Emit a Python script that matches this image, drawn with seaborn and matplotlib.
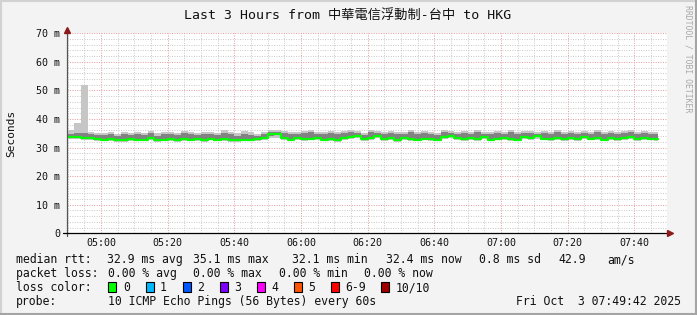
import matplotlib
matplotlib.use("Agg")
import matplotlib.pyplot as plt
import numpy as np
import pandas as pd
import seaborn as sns
from matplotlib.patches import Rectangle
from matplotlib.lines import Line2D
from matplotlib.ticker import MultipleLocator

# ---------------- data (ms), one bin every 2 minutes from 04:50 ----------------
START_MIN = 4 * 60 + 50      # 04:50
STEP_MIN = 2
median_ms = [33.6,33.6,33.5,33.4,33.0, 32.7,33.0,32.6,32.5,32.9, 32.7,32.8,33.2,32.5,32.8,
             32.9,32.7,33.0,32.8,32.9, 32.6,33.1,32.7,33.0,32.5, 32.6,32.8,32.7,32.9,33.4,
             34.7,34.9,33.5,32.8,33.3, 32.9,33.1,33.4,32.8,33.0, 32.7,33.2,33.8,34.2,33.0,
             33.5,34.1,32.9,33.2,32.7, 33.4,33.0,32.8,33.1,32.9, 32.8,33.6,34.0,33.3,32.9,
             33.5,33.0,33.8,32.8,33.1, 33.4,33.0,32.8,33.6,33.2, 33.9,33.1,32.9,33.4,33.0,
             33.3,32.9,33.7,33.1,33.4, 32.8,33.5,33.0,33.2,33.6, 33.0,33.3,33.1,32.9]
min_ms = [33.0,32.9,32.8,32.7,32.4, 32.2,32.4,32.1,32.0,32.3, 32.2,32.3,32.5,32.0,32.2,
          32.3,32.1,32.4,32.2,32.3, 32.1,32.5,32.2,32.4,32.0, 32.1,32.3,32.2,32.3,32.6,
          33.2,33.5,32.8,32.2,32.6, 32.3,32.5,32.7,32.2,32.4, 32.1,32.6,33.0,33.4,32.4,
          32.8,33.3,32.3,32.6,32.1, 32.7,32.4,32.2,32.5,32.3, 32.2,32.9,33.2,32.7,32.3,
          32.8,32.4,33.0,32.2,32.5, 32.7,32.4,32.2,32.9,32.6, 33.1,32.5,32.3,32.7,32.4,
          32.6,32.3,33.0,32.5,32.7, 32.2,32.8,32.4,32.6,32.9, 32.4,32.6,32.5,32.3]
q_low_ms = [33.3,33.3,33.2,33.1,32.8, 32.5,32.8,32.4,32.3,32.7, 32.5,32.6,33.0,32.3,32.6,
            32.7,32.5,32.8,32.6,32.7, 32.4,32.9,32.5,32.8,32.3, 32.4,32.6,32.5,32.7,33.1,
            34.0,34.3,33.2,32.6,33.0, 32.7,32.9,33.1,32.6,32.8, 32.5,33.0,33.5,33.9,32.8,
            33.2,33.8,32.7,33.0,32.5, 33.1,32.8,32.6,32.9,32.7, 32.6,33.3,33.7,33.0,32.7,
            33.2,32.8,33.5,32.6,32.9, 33.1,32.8,32.6,33.3,33.0, 33.6,32.9,32.7,33.1,32.8,
            33.0,32.7,33.4,32.9,33.1, 32.6,33.2,32.8,33.0,33.3, 32.8,33.0,32.9,32.7]
q_high_ms = [34.6,35.0,35.2,34.8,34.5, 34.3,34.6,34.1,34.8,34.4, 34.7,34.5,35.0,34.2,34.6,
             34.8,34.3,35.1,34.7,34.4, 34.9,34.6,34.5,35.2,34.6, 34.2,34.9,34.5,34.0,34.8,
             35.4,35.5,35.1,34.7,34.9, 35.0,35.3,34.8,34.6,35.2, 34.7,35.0,35.4,35.2,34.5,
             35.3,35.0,34.8,35.2,34.6, 34.9,35.3,34.7,35.1,34.8, 34.5,35.4,35.0,34.7,35.1,
             34.8,35.3,34.9,34.6,35.2, 34.9,35.3,34.7,35.0,35.2, 34.8,35.1,34.6,35.3,34.9,
             35.0,34.7,35.2,34.9,35.4, 34.8,35.1,34.7,35.0,35.3, 34.8,35.1,34.9,34.7]
max_ms = [36.0,38.5,52.0,35.5,35.2, 35.0,35.3,34.8,35.6,35.0, 35.4,35.2,35.8,35.0,35.3,
          35.5,35.1,35.9,35.4,35.0, 35.6,35.3,35.2,36.0,35.4, 35.0,35.7,35.3,34.6,35.5,
          36.2,36.0,35.8,35.4,35.6, 35.8,36.0,35.5,35.3,35.9, 35.4,35.7,36.0,35.8,35.2,
          36.0,35.7,35.5,35.9,35.3, 35.6,36.0,35.4,35.8,35.5, 35.2,36.1,35.7,35.4,35.8,
          35.5,36.0,35.6,35.3,35.9, 35.6,36.0,35.4,35.7,35.9, 35.5,35.8,35.3,36.0,35.6,
          35.7,35.4,35.9,35.6,36.1, 35.5,35.8,35.4,35.7,36.0, 35.5,35.8,35.6,35.4]

x_tick_labels = ["05:00", "05:20", "05:40", "06:00", "06:20", "06:40", "07:00", "07:20", "07:40"]
y_tick_labels = ["0", "10 m", "20 m", "30 m", "40 m", "50 m", "60 m", "70 m"]
title = "Last 3 Hours from 中華電信浮動制-台中 to HKG"
loss_labels = ["0", "1", "2", "3", "4", "5", "6-9", "10/10"]
loss_colors = ["#00ff00", "#00b8ff", "#0059ff", "#7e00ff", "#ff00ff", "#ff5500", "#ff0000", "#a10000"]

n = len(median_ms)
t = [START_MIN + STEP_MIN * i for i in range(n)]
# close the last step
t_ext = t + [t[-1] + 1]
def ext(a):
    return list(a) + [a[-1]]

df = pd.DataFrame({"t": t_ext, "median": ext(median_ms), "min": ext(min_ms),
                   "qlo": ext(q_low_ms), "qhi": ext(q_high_ms), "max": ext(max_ms)})

# ---------------- figure ----------------
sns.set_style("white")
plt.rcParams["font.family"] = ["DejaVu Sans Mono", "Noto Sans CJK TC"]

W, H = 697, 315
fig = plt.figure(figsize=(W / 100, H / 100), dpi=100)
fig.patch.set_facecolor("#f3f3f3")

L, R, T, B = 66.7, 666.7, 33.3, 233.3
ax = fig.add_axes([L / W, 1 - B / H, (R - L) / W, (B - T) / H])
ax.set_facecolor("white")

x0 = 4 * 60 + 49 + 42 / 60
ax.set_xlim(x0, x0 + 180)
ax.set_ylim(0, 70)

# grid
ax.set_xticks([300 + 20 * i for i in range(len(x_tick_labels))])
ax.set_xticklabels(x_tick_labels)
ax.xaxis.set_minor_locator(MultipleLocator(5))
ax.set_yticks([10 * i for i in range(len(y_tick_labels))])
ax.set_yticklabels(y_tick_labels)
ax.yaxis.set_minor_locator(MultipleLocator(2))
ax.grid(which="minor", color="#c8c8c8", linestyle=(0, (1, 1.5)), linewidth=0.7)
ax.grid(which="major", color="#e49a9a", linestyle=(0, (1, 1.5)), linewidth=0.7)
ax.set_axisbelow(True)

# smoke
ax.fill_between(df["t"], df["min"], df["max"], step="post", color="#c6c6c6", lw=0, zorder=2)
ax.fill_between(df["t"], df["qlo"], df["qhi"], step="post", color="#828282", lw=0, zorder=3)
sns.lineplot(data=df, x="t", y="median", ax=ax, color="#00ff00", lw=1.6,
             drawstyle="steps-post", estimator=None, zorder=4, legend=False)
ax.set_xlabel("")
ax.set_ylabel("")

for s in ax.spines.values():
    s.set_visible(False)

ax.tick_params(axis="y", which="major", length=2.5, width=0.8, color="#555555", direction="out",
               pad=2.4, labelsize=7.2, labelcolor="#111111")
ax.tick_params(axis="x", which="major", length=0, pad=3.6, labelsize=7.2, labelcolor="#111111")
ax.tick_params(which="minor", length=0)

# axis lines and arrows
ax.add_line(Line2D([0, 0], [-3 / 200, 1.01], transform=ax.transAxes, color="#555555",
                   lw=0.9, clip_on=False, zorder=6))
ax.add_line(Line2D([-4 / 600, 1.003], [0, 0], transform=ax.transAxes, color="#000000",
                   lw=0.9, clip_on=False, zorder=6))
ax.plot([0], [1.017], marker="^", markersize=4.2, color="#8b1a1a", transform=ax.transAxes,
        clip_on=False, zorder=7)
ax.plot([1.006], [0], marker=">", markersize=4.2, color="#8b1a1a", transform=ax.transAxes,
        clip_on=False, zorder=7)

def ftext(x, y, s, **kw):
    kw.setdefault("fontsize", 8.3)
    kw.setdefault("color", "#111111")
    fig.text(x / W, 1 - y / H, s, **kw)

# title / labels
ftext(348, 19, title, ha="center", va="baseline", fontsize=9.5)
ftext(11, 133, "Seconds", ha="center", va="center", rotation=90, fontsize=8)
ftext(688, 5, "RRDTOOL / TOBI OETIKER", ha="center", va="top", rotation=270,
      fontsize=5.9, color="#a8a8a8")

# legend lines
y1, y2, y3, y4 = 263.3, 277.3, 291.3, 305.3
ftext(16, y1, "median rtt:", va="baseline")
for x, s in [(107, "32.9 ms avg"), (193, "35.1 ms max"), (292, "32.1 ms min"),
             (386, "32.4 ms now"), (479, "0.8 ms sd"), (558, "42.9"), (607, "am/s")]:
    ftext(x, y1, s, va="baseline")
ftext(16, y2, "packet loss:", va="baseline")
for x, s in [(107.6, "0.00 % avg"), (193, "0.00 % max"), (279, "0.00 % min"), (364, "0.00 % now")]:
    ftext(x, y2, s, va="baseline")
ftext(16, y3, "loss color:", va="baseline")
box_x = [108.4, 145.5, 182.5, 219.6, 257, 294, 331, 381]
lab_x = [123.6, 160, 197, 234, 271, 308, 345, 396]
for bx, lx, lab, col in zip(box_x, lab_x, loss_labels, loss_colors):
    fig.patches.append(Rectangle((bx / W, 1 - (y3 + 0.5) / H), 8 / W, 10 / H,
                                 transform=fig.transFigure, facecolor=col,
                                 edgecolor="black", linewidth=0.8, figure=fig))
    ftext(lx, y3, lab, va="baseline")
ftext(16, y4, "probe:", va="baseline")
ftext(107.6, y4, "10 ICMP Echo Pings (56 Bytes) every 60s", va="baseline")
ftext(681, y4, "Fri Oct  3 07:49:42 2025", va="baseline", ha="right")

# frame shading
fig.add_artist(Line2D([0, 1], [1 - 1 / H, 1 - 1 / H], transform=fig.transFigure, color="#d2d2d2", lw=1.5))
fig.add_artist(Line2D([1 / W, 1 / W], [0, 1], transform=fig.transFigure, color="#d2d2d2", lw=1.5))
fig.add_artist(Line2D([0, 1], [1 / H, 1 / H], transform=fig.transFigure, color="#a4a4a4", lw=1.5))
fig.add_artist(Line2D([1 - 1 / W, 1 - 1 / W], [0, 1], transform=fig.transFigure, color="#a4a4a4", lw=1.5))

fig.savefig("out.png", dpi=100, facecolor=fig.get_facecolor())
